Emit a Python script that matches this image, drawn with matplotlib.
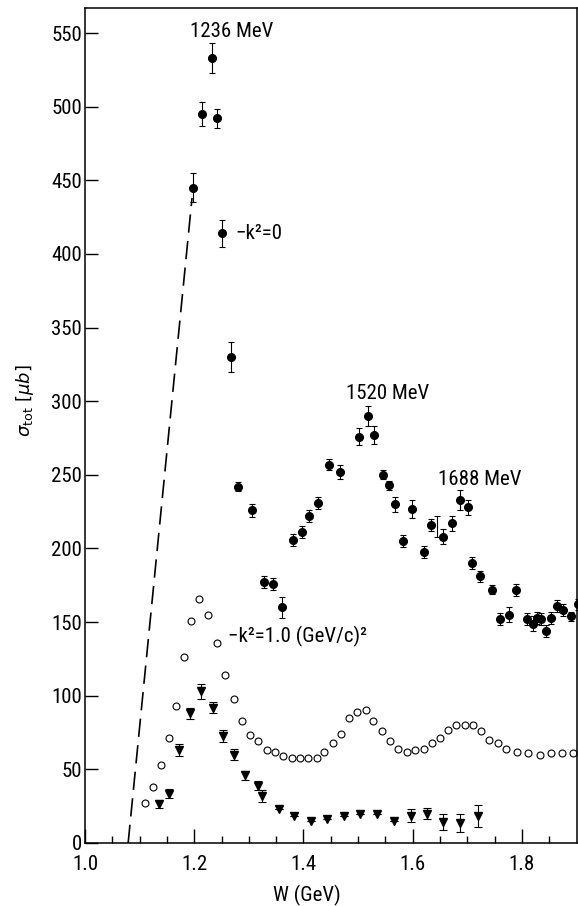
import matplotlib
matplotlib.use('Agg')
import matplotlib.pyplot as plt
from matplotlib import font_manager as fm
import numpy as np

# -k^2 = 0 (filled circles): W in GeV, sigma in microbarn, error
k0_W = [1.198, 1.215, 1.233, 1.242, 1.251, 1.267, 1.281, 1.306, 1.327, 1.344,
        1.361, 1.380, 1.397, 1.411, 1.427, 1.446, 1.467, 1.502, 1.518, 1.530,
        1.546, 1.557, 1.568, 1.583, 1.599, 1.620, 1.633, 1.656, 1.672, 1.686,
        1.701, 1.709, 1.723, 1.746, 1.760, 1.777, 1.789, 1.809, 1.821, 1.828,
        1.835, 1.844, 1.853, 1.864, 1.876, 1.890, 1.902]
k0_sig = [445, 495, 533, 492, 414, 330, 242, 226, 177, 176,
          160, 206, 211, 222, 231, 257, 252, 276, 290, 277,
          250, 243, 230, 205, 227, 197.5, 216, 208, 217, 233,
          228, 190, 181, 172, 152, 155, 172, 152, 149, 153,
          152, 144, 153, 161, 158, 154, 162]
k0_err = [10, 8, 10, 6.5, 9, 10, 3, 4.5, 4, 4,
          7, 4, 4, 4, 4, 4, 5, 6, 7, 6,
          3, 3, 5, 4, 6, 4, 4, 5, 5, 7,
          5, 4, 4, 3, 4, 5, 4, 4, 5, 4,
          4, 4, 4, 4, 4, 3, 4]
# lone error bar without a dot
lone_W = [1.645]
lone_sig = [215]
lone_err = [7]

# -k^2 = 1.0 (GeV/c)^2 (open circles)
k1_W = [1.110, 1.125, 1.139, 1.153, 1.167, 1.181, 1.194, 1.209, 1.226, 1.241,
        1.256, 1.272, 1.287, 1.302, 1.317, 1.334, 1.348, 1.363, 1.379, 1.394,
        1.409, 1.424, 1.438, 1.454, 1.469, 1.484, 1.499, 1.515, 1.528, 1.543,
        1.559, 1.574, 1.589, 1.604, 1.621, 1.636, 1.650, 1.664, 1.679, 1.695,
        1.710, 1.725, 1.740, 1.756, 1.771, 1.792, 1.812, 1.833, 1.853, 1.873,
        1.894]
k1_sig = [27, 38, 53, 71, 93, 126, 151, 166, 155, 136,
          114, 98, 83, 73, 69, 63, 62, 59, 58, 58,
          58, 58, 62, 68, 74, 85, 89, 90.5, 83, 76,
          69, 64, 62, 63, 64, 68, 71, 77, 80, 80,
          80, 76, 70, 68, 64, 62, 61, 60, 61, 61,
          61]

# triangles
tri_W = [1.136, 1.154, 1.173, 1.192, 1.212, 1.234, 1.253, 1.273, 1.293, 1.316,
         1.324, 1.356, 1.383, 1.414, 1.444, 1.475, 1.504, 1.534, 1.565, 1.597,
         1.627, 1.656, 1.687, 1.719]
tri_sig = [26.5, 33.6, 63, 88, 103, 92, 72.5, 60, 46, 39,
           32, 23, 18, 15, 16, 18, 20, 20, 15, 18.5,
           20, 14, 13.5, 18.5]
tri_err = [3, 3, 4, 4, 5, 4, 4, 3.5, 3, 3,
           4, 0, 0, 0, 0, 0, 0, 0, 0, 4.5,
           4, 5.5, 6, 7.5]

# dashed curve
dash_W = [1.079, 1.196]
dash_sig = [0, 438]

xticks = [1.0, 1.2, 1.4, 1.6, 1.8]
xticklabels = ['1.0', '1.2', '1.4', '1.6', '1.8']
yticks = list(range(0, 551, 50))

# pick a condensed sans font if there is one
have = set(f.name for f in fm.fontManager.ttflist)
narrow = 'DejaVu Sans'
for name in ['Roboto Condensed', 'Archivo Narrow', 'PT Sans Narrow',
             'Liberation Sans Narrow', 'Fira Sans Condensed',
             'IBM Plex Sans Condensed', 'Encode Sans Condensed',
             'Asap Condensed', 'Barlow Condensed', 'Pragati Narrow']:
    if name in have:
        narrow = name
        break
plt.rcParams['font.family'] = [narrow, 'DejaVu Sans']

fig = plt.figure(figsize=(5.78, 9.06), dpi=100)
ax = fig.add_axes([85 / 578, 63 / 906, 492 / 578, 835 / 906])

ax.plot(dash_W, dash_sig, color='black', lw=1.2, dashes=(11, 5))

ax.errorbar(k0_W, k0_sig, yerr=k0_err, fmt='o', color='black', ms=5.5,
            elinewidth=0.8, capsize=2.5, capthick=0.8)
ax.errorbar(lone_W, lone_sig, yerr=lone_err, fmt='none', ecolor='black',
            elinewidth=0.8, capsize=2.5, capthick=0.8)
ax.plot(k1_W, k1_sig, 'o', mfc='white', mec='black', mew=0.8, ms=5)
ax.errorbar(tri_W, tri_sig, yerr=tri_err, fmt='v', color='black', ms=5.5,
            elinewidth=0.8, capsize=3, capthick=0.8)

ax.set_xlim(1.0, 1.901)
ax.set_ylim(0, 567)

ax.set_xticks(xticks)
ax.set_xticklabels(xticklabels)
ax.set_xticks(np.arange(1.05, 1.9, 0.05), minor=True)
ax.set_yticks(yticks)
ax.tick_params(axis='x', which='major', direction='in', length=10, width=1,
               pad=9, labelsize=15)
ax.tick_params(axis='x', which='minor', direction='in', length=5, width=1)
ax.tick_params(axis='y', direction='in', length=9, width=1, pad=2,
               labelsize=15)
for s in ax.spines.values():
    s.set_linewidth(1.1)

ax.set_xlabel('W (GeV)', fontsize=15)
ax.xaxis.set_label_coords(0.451, -0.05)
ax.set_ylabel(r'$\sigma_{\mathrm{tot}}\ \left[\mu b\right]$', fontsize=13)
ax.yaxis.set_label_coords(-0.10, 0.53)

ax.text(1.269, 551, '1236 MeV', fontsize=15, ha='center', va='center')
ax.text(1.275, 414, '\u2212k\u00b2=0', fontsize=15, ha='left', va='center')
ax.text(1.555, 305, '1520 MeV', fontsize=15, ha='center', va='center')
ax.text(1.722, 247, '1688 MeV', fontsize=15, ha='center', va='center')
ax.text(1.262, 140, '\u2212k\u00b2=1.0 (GeV/c)\u00b2', fontsize=15,
        ha='left', va='center')

fig.savefig('out.png', dpi=100)
